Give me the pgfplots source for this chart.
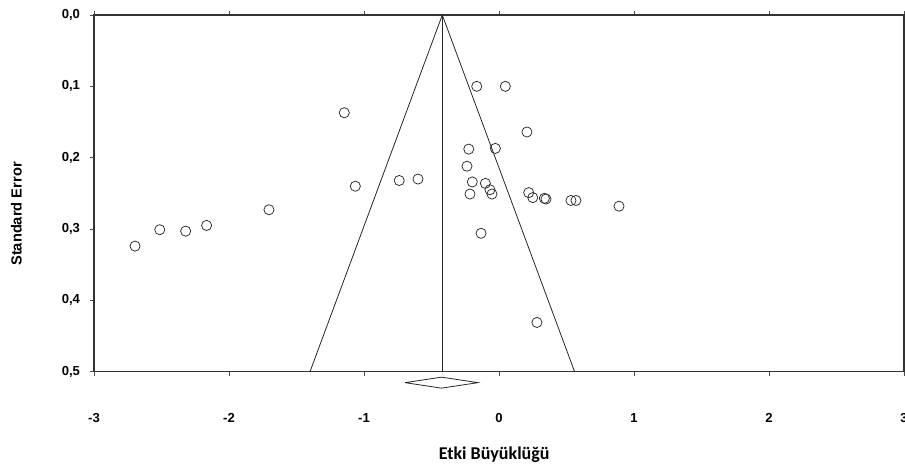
\documentclass[border=0pt]{standalone}
\usepackage{fontspec}
\setmainfont{Liberation Sans}
\newfontfamily\carlito{Carlito}
\usepackage{pgfplots}
\pgfplotsset{compat=1.18}

\begin{document}
\begin{tikzpicture}
\begin{axis}[
    scale only axis,
    width=607.5pt, height=267.5pt,
    xmin=-3, xmax=3, ymin=0, ymax=0.5,
    y dir=reverse,
    clip=false,
    xtick={-3,-2,-1,0,1,2,3},
    ytick={0,0.1,0.2,0.3,0.4,0.5},
    yticklabel style={xshift=-4pt, /pgf/number format/use comma, /pgf/number format/fixed, /pgf/number format/fixed zerofill, /pgf/number format/precision=1},
    /pgf/number format/assume math mode=true,
    tick label style={font=\bfseries\fontsize{9.8}{11}\selectfont, black},
    xticklabel style={yshift=-25pt},
    tick align=outside,
    major tick length=3pt,
    axis line style={black!80, line width=0.8pt},
    every tick/.style={black!70, line width=0.6pt},
    xlabel={Etki Büyüklüğü},
    ylabel={Standard Error},
    every axis x label/.style={at={(axis description cs:0.494,-0.2335)}, anchor=center, font=\carlito\bfseries\fontsize{13.5}{15}\selectfont},
    every axis y label/.style={at={(axis description cs:-0.0957,0.442)}, rotate=90, anchor=center, font=\bfseries\fontsize{11}{12}\selectfont},
]
% funnel
\addplot[black!85, line width=0.6pt] coordinates {(-1.40,0.5) (-0.42,0) (0.56,0.5)};
\addplot[black!85, line width=0.6pt] coordinates {(-0.42,0) (-0.42,0.5)};
% summary diamond
\addplot[black!85, line width=0.6pt] coordinates {(-0.696,0.5154) (-0.426,0.5077) (-0.156,0.5154) (-0.426,0.5231) (-0.696,0.5154)};
% studies
\addplot[only marks, mark=o, mark size=3.8pt, mark options={black!85, line width=0.55pt}] coordinates {
(-1.146,0.137) (-1.064,0.240) (-0.739,0.232) (-0.600,0.230) (-1.704,0.273)
(-2.513,0.301) (-2.321,0.303) (-2.166,0.295) (-2.696,0.324)
(-0.165,0.100) (0.047,0.100) (0.207,0.164) (-0.224,0.188) (-0.027,0.187)
(-0.237,0.212) (-0.198,0.234) (-0.101,0.236) (-0.067,0.245) (-0.052,0.251)
(-0.215,0.251) (0.220,0.249) (0.250,0.256) (0.336,0.257) (0.348,0.258)
(0.533,0.260) (0.570,0.260) (0.889,0.268) (-0.133,0.306) (0.281,0.431)
};
\end{axis}
\pgfresetboundingbox
\path[use as bounding box] ([xshift=-70.5pt,yshift=-70.7pt]current axis.south west) rectangle ([xshift=0.75pt,yshift=11.25pt]current axis.north east);
\end{tikzpicture}
\end{document}
